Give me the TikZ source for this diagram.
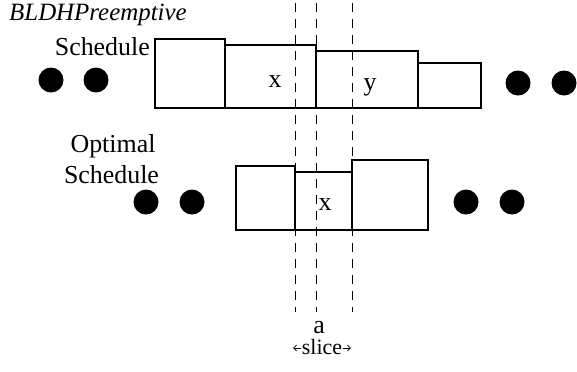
\documentclass[tikz,border=0pt]{standalone}
\usepackage{fontspec}
\setmainfont{Liberation Serif}
\usetikzlibrary{arrows.meta}
\begin{document}
\begin{tikzpicture}[x=1bp,y=-1bp,
  job/.style={draw,line width=1.1bp},
  dot/.style={circle,fill=black,inner sep=0pt,minimum size=25bp},
  slicer/.style={line width=1bp,dash pattern=on 9bp off 7bp},
  txt/.style={font=\fontsize{26}{30}\selectfont,inner sep=0pt},
  lbl/.style={txt,anchor=base}]
\useasboundingbox (0,0) rectangle (577,371);

% upper schedule
\node[txt,font=\fontsize{25}{30}\selectfont\itshape,anchor=base west] (ttl) at (9,20) {BLDHPreemptive};
\node[txt,anchor=base east] (s1) at (150,55) {Schedule};
\draw[job] (155,39) rectangle (225,108);
\draw[job] (225,45) rectangle (316,108);
\draw[job] (316,51) rectangle (418,108);
\draw[job] (418,63) rectangle (481,108);
\node[lbl] (xa) at (275,87) {x};
\node[lbl] (ya) at (370,90) {y};
\node[dot] (d1) at (51,80) {};
\node[dot] (d2) at (96,80) {};
\node[dot] (d3) at (518,83) {};
\node[dot] (d4) at (564,83) {};

% optimal schedule
\node[txt,anchor=base] (o1) at (113,152) {Optimal};
\node[txt,anchor=base] (o2) at (111.5,183) {Schedule};
\draw[job] (236,166) rectangle (295,230);
\draw[job] (295,172) rectangle (352,230);
\draw[job] (352,160) rectangle (428,230);
\node[lbl] (xb) at (325,210) {x};
\node[dot] (d5) at (146,202) {};
\node[dot] (d6) at (192,202) {};
\node[dot] (d7) at (466,202) {};
\node[dot] (d8) at (512,202) {};

% time slice markers
\coordinate (t1) at (295,3);
\coordinate (t2) at (316,3);
\coordinate (t3) at (352,3);
\coordinate (b1) at (295,312);
\coordinate (b2) at (316,312);
\coordinate (b3) at (352,312);
\draw[slicer] (t1) -- (b1);
\draw[slicer] (t2) -- (b2);
\draw[slicer] (t3) -- (b3);
\node[lbl] (a) at (319,333) {a};
\node[lbl,font=\fontsize{22}{24}\selectfont,inner xsep=0.5bp] (sl) at (322,354) {slice};
\draw[-{Straight Barb[length=3bp,width=6bp]},line width=0.7bp] (sl.base west) ++(0,-6) -- ++(-8,0) coordinate (sla);
\draw[-{Straight Barb[length=3bp,width=6bp]},line width=0.7bp] (sl.base east) ++(0,-6) -- ++(8,0) coordinate (slb);
\end{tikzpicture}
\end{document}
